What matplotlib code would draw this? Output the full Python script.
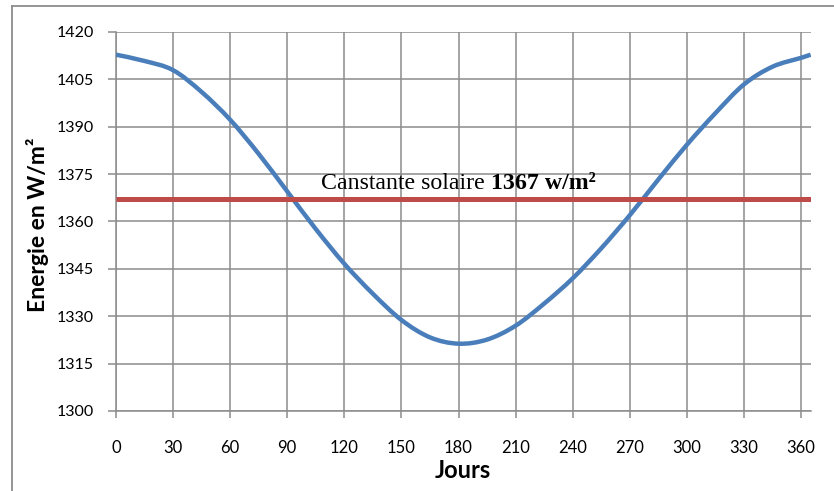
import numpy as np
import matplotlib.pyplot as plt
from matplotlib.lines import Line2D
from matplotlib.path import Path
from matplotlib.patches import PathPatch

# jours de l'annee et energie solaire recue (W/m2)
jours = [0, 15, 30, 45, 60, 75, 90, 105, 120, 135, 150, 165, 180,
         195, 210, 225, 240, 255, 270, 285, 300, 315, 330, 345, 360, 365]
energie = [1412.8, 1410.8, 1407.9, 1401.0, 1392.2, 1381.4, 1369.5, 1357.6,
           1346.6, 1337.1, 1328.8, 1323.3, 1321.3, 1322.6, 1327.0, 1334.0,
           1342.0, 1351.5, 1362.0, 1373.3, 1384.3, 1394.3, 1403.4, 1409.0,
           1411.8, 1412.8]

const_jours = [0, 365]
const_val = [1367, 1367]

xticks = list(range(0, 361, 30))
yticks = list(range(1300, 1421, 15))

grid_col = '#8c8c8c'


def courbe_lisse(x, y):
    # ligne lissee facon Excel (segments de Bezier entre les points)
    p = np.column_stack([x, y]).astype(float)
    p = np.vstack([p[0], p, p[-1]])
    verts = [p[1]]
    codes = [Path.MOVETO]
    for i in range(1, len(p) - 2):
        c1 = p[i] + (p[i + 1] - p[i - 1]) / 6
        c2 = p[i + 1] - (p[i + 2] - p[i]) / 6
        verts += [c1, c2, p[i + 1]]
        codes += [Path.CURVE4] * 3
    return Path(verts, codes)


fig = plt.figure(figsize=(8.34, 4.91), dpi=100)
ax = fig.add_axes([0.139, 0.163, 0.833, 0.772])

ax.add_patch(PathPatch(courbe_lisse(jours, energie), fill=False,
                       edgecolor='#4a7ebb', lw=3.2, capstyle='butt', zorder=3))
ax.plot(const_jours, const_val, color='#be4b48', lw=3.6, solid_capstyle='butt', zorder=3)

ax.set_xlim(0, 365)
ax.set_ylim(1300, 1420)
ax.set_xticks(xticks)
ax.set_yticks(yticks)
ax.grid(True, color=grid_col, lw=1.1)
ax.set_axisbelow(True)

for s in ['top', 'right']:
    ax.spines[s].set_visible(False)
for s in ['left', 'bottom']:
    ax.spines[s].set_color(grid_col)
    ax.spines[s].set_linewidth(1.1)

ax.tick_params(axis='y', length=6, width=1.1, color=grid_col, pad=10,
               labelsize=11.5, labelfontfamily='Lato')
ax.tick_params(axis='x', length=5, width=1.1, color=grid_col, pad=16,
               labelsize=12, labelfontfamily='Lato')

ax.set_xlabel('Jours', fontsize=17, fontweight='bold', family='Lato', labelpad=2)
ax.set_ylabel('Energie en W/m²', fontsize=16.5, fontweight='bold', family='Lato')
ax.yaxis.set_label_coords(-0.097, 0.49)

t1 = ax.text(108, 1370.3, 'Canstante solaire ', family='Liberation Serif',
             fontsize=17.2, va='baseline', ha='left')
fig.canvas.draw()
bb = t1.get_window_extent()
x_end = ax.transData.inverted().transform((bb.x1, bb.y0))[0]
ax.text(x_end, 1370.3, '1367 w/m²', family='Liberation Serif', fontsize=17.2,
        fontweight='bold', va='baseline', ha='left')

# cadre du graphique
fig.add_artist(Line2D([12 / 834, 12 / 834], [0, 1 - 6 / 491], color=grid_col, lw=1.3))
fig.add_artist(Line2D([12 / 834, 1], [1 - 6 / 491, 1 - 6 / 491], color=grid_col, lw=1.3))

fig.savefig('out.png', dpi=100)
